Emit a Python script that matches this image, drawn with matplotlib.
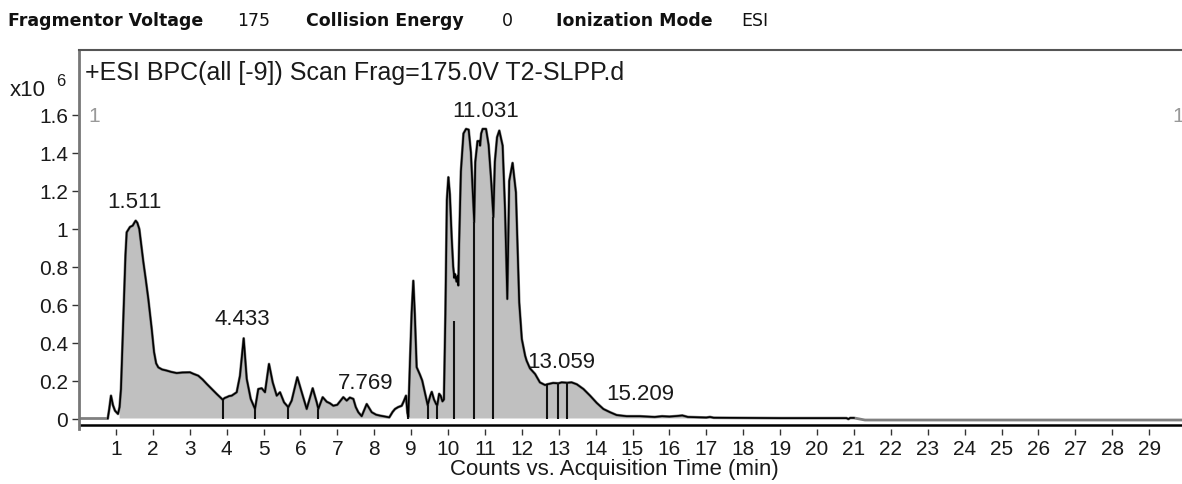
import matplotlib
matplotlib.use("Agg")
import matplotlib.pyplot as plt
import numpy as np

plt.rcParams['font.family'] = ['Liberation Sans', 'DejaVu Sans']

# BPC trace (minutes, counts x10^6)
tempo = [0.0, 0.78, 0.82, 0.867, 0.92, 0.976, 1.057, 1.10, 1.138, 1.18, 1.22, 1.26, 1.293,
         1.382, 1.455, 1.50, 1.537, 1.58, 1.634, 1.69, 1.743, 1.81, 1.878, 1.97, 2.033, 2.09,
         2.149, 2.25, 2.377, 2.50, 2.648, 2.80, 3.008, 3.10, 3.233, 3.35, 3.461, 3.60, 3.732,
         3.894, 3.95, 4.003, 4.07, 4.138, 4.20, 4.274, 4.363, 4.463, 4.545, 4.653, 4.770,
         4.82, 4.859, 4.951, 5.041, 5.149, 5.249, 5.358, 5.447, 5.556, 5.672, 5.764, 5.916,
         6.035, 6.171, 6.333, 6.442, 6.485, 6.604, 6.713, 6.80, 6.892, 7.00, 7.163, 7.255,
         7.34, 7.434, 7.50, 7.569, 7.661, 7.797, 7.932, 8.05, 8.157, 8.30, 8.409, 8.50,
         8.564, 8.65, 8.745, 8.80, 8.862, 8.90, 8.924, 8.97, 9.016, 9.06, 9.10, 9.15, 9.24,
         9.30, 9.38, 9.45, 9.52, 9.56, 9.62, 9.68, 9.71, 9.76, 9.80, 9.85, 9.89, 9.93, 9.97,
         10.01, 10.05, 10.10, 10.14, 10.17, 10.19, 10.23, 10.26, 10.28, 10.30, 10.35, 10.42,
         10.49, 10.56, 10.62, 10.67, 10.71, 10.74, 10.80, 10.85, 10.87, 10.90, 10.94, 11.03,
         11.10, 11.17, 11.23, 11.27, 11.33, 11.39, 11.48, 11.545, 11.607, 11.66, 11.75, 11.84,
         11.88, 11.93, 12.00, 12.09, 12.13, 12.22, 12.36, 12.49, 12.63, 12.69, 12.85, 12.99,
         13.08, 13.23, 13.35, 13.49, 13.67, 13.85, 14.03, 14.21, 14.39, 14.57, 14.84, 15.2,
         15.6, 15.8, 16.0, 16.2, 16.35, 16.5, 17.0, 17.1, 17.2, 18.0, 19.0, 20.0, 20.8, 20.85,
         20.9, 21.0, 21.3, 29.9]
contagem = [0.0, 0.0, 0.05, 0.12, 0.07, 0.041, 0.024, 0.06, 0.155, 0.40, 0.63, 0.86, 0.98,
            1.008, 1.015, 1.03, 1.041, 1.03, 0.997, 0.91, 0.824, 0.73, 0.629, 0.471, 0.35, 0.29,
            0.269, 0.258, 0.252, 0.245, 0.239, 0.242, 0.243, 0.235, 0.225, 0.205, 0.182, 0.155,
            0.129, 0.099, 0.108, 0.112, 0.118, 0.12, 0.128, 0.138, 0.225, 0.422, 0.208, 0.103,
            0.05, 0.11, 0.155, 0.159, 0.138, 0.287, 0.19, 0.12, 0.138, 0.085, 0.059, 0.094,
            0.217, 0.138, 0.05, 0.159, 0.085, 0.05, 0.112, 0.088, 0.08, 0.067, 0.072, 0.112,
            0.094, 0.11, 0.103, 0.06, 0.033, 0.012, 0.076, 0.033, 0.02, 0.015, 0.01, 0.006,
            0.035, 0.05, 0.06, 0.067, 0.09, 0.12, 0.03, 0.008, 0.30, 0.56, 0.725, 0.55, 0.27,
            0.23, 0.20, 0.13, 0.07, 0.12, 0.14, 0.10, 0.075, 0.07, 0.13, 0.12, 0.09, 0.10, 0.55,
            1.15, 1.27, 1.18, 0.95, 0.80, 0.74, 0.76, 0.72, 0.75, 0.70, 0.90, 1.30, 1.50, 1.524,
            1.52, 1.40, 1.20, 1.033, 1.35, 1.46, 1.46, 1.436, 1.50, 1.524, 1.524, 1.44, 1.25,
            1.059, 1.35, 1.48, 1.515, 1.436, 1.10, 0.629, 1.25, 1.345, 1.19, 0.927, 0.61, 0.418,
            0.33, 0.304, 0.264, 0.234, 0.19, 0.176, 0.18, 0.187, 0.185, 0.19, 0.188, 0.19, 0.18,
            0.155, 0.12, 0.082, 0.05, 0.033, 0.018, 0.012, 0.012, 0.008, 0.012, 0.01, 0.013,
            0.016, 0.008, 0.005, 0.008, 0.004, 0.003, 0.002, 0.002, 0.002, -0.003, 0.003, 0.003,
            -0.008, -0.008]

# limites de integracao (min) e altura das linhas
limites = [3.894, 4.770, 5.672, 6.485, 8.924, 9.45, 9.71, 10.17, 10.71, 11.23, 12.69, 12.99, 13.23]
limites_y = [0.099, 0.05, 0.059, 0.05, 0.008, 0.07, 0.07, 0.515, 1.033, 1.059, 0.178, 0.185, 0.19]

# rotulos dos picos
picos_rt = [1.511, 4.433, 7.769, 11.031, 13.059, 15.209]
picos_y = [1.087, 0.471, 0.134, 1.566, 0.245, 0.076]

y_ticks = [0, 0.2, 0.4, 0.6, 0.8, 1.0, 1.2, 1.4, 1.6]
y_labels = ["0", "0.2", "0.4", "0.6", "0.8", "1", "1.2", "1.4", "1.6"]
x_ticks = list(range(1, 30))

t = np.array(tempo)
c = np.array(contagem)

W, H = 1182, 485
fig = plt.figure(figsize=(W / 100, H / 100), dpi=100)
ax = fig.add_axes([79 / W, 1 - 429.5 / H, (W - 79) / W, (429.5 - 51) / H])

# area integrada
mask = ((t >= 1.06) & (t <= 8.41)) | ((t >= 8.924) & (t <= 20.85))
ax.fill_between(t, c, 0, where=mask, color="#c0c0c0", linewidth=0)

ax.plot(t, c, color="#808080", lw=2.0)
m = (t >= 0.78) & (t <= 21.0)
ax.plot(t[m], c[m], color="black", lw=1.2)
ax.vlines(limites, 0, limites_y, color="#111111", lw=1.5)

ax.axhline(-0.034, color="black", lw=1.8)

for rt, yy in zip(picos_rt, picos_y):
    ax.text(rt, yy, "{:.3f}".format(rt), ha="center", va="bottom", fontsize=16, color="#1a1a1a")

ax.set_xlim(0, (W - 79) / 36.9)
ax.set_ylim(-(429.5 - 419.5) / 190, (419.5 - 51) / 190)

ax.set_yticks(y_ticks)
ax.set_yticklabels(y_labels)
ax.set_xticks(x_ticks)
ax.tick_params(axis="y", direction="out", length=5, width=1, color="#333333",
               labelsize=15, pad=3, labelcolor="#1a1a1a")
ax.tick_params(axis="x", direction="out", length=4.5, width=1, color="#333333",
               labelsize=15, pad=3, labelcolor="#1a1a1a")

ax.spines["right"].set_visible(False)
ax.spines["bottom"].set_visible(False)
ax.spines["left"].set_color("#777777")
ax.spines["left"].set_linewidth(2)
ax.spines["top"].set_color("#555555")
ax.spines["top"].set_linewidth(1.5)

fig.text(614 / W, 1 - 470 / H, "Counts vs. Acquisition Time (min)", fontsize=16,
         color="#1a1a1a", ha="center", va="center")

# titulo e marcadores
fig.text(85 / W, 1 - 73 / H, "+ESI BPC(all [-9]) Scan Frag=175.0V T2-SLPP.d", fontsize=18,
         va="center", ha="left", color="#1a1a1a")
fig.text(88 / W, 1 - 116 / H, "1", fontsize=15, color="#999999", va="center", ha="left")
fig.text(1172 / W, 1 - 116 / H, "1", fontsize=15, color="#999999", va="center", ha="left")
fig.text(10 / W, 1 - 90 / H, "x10", fontsize=16, va="center", ha="left", color="#1a1a1a")
fig.text(56 / W, 1 - 81 / H, "6", fontsize=12, va="center", ha="left", color="#1a1a1a")

# cabecalho
cab = [(8, "Fragmentor Voltage", "bold"), (237, "175", "normal"), (306, "Collision Energy", "bold"),
       (502, "0", "normal"), (556, "Ionization Mode", "bold"), (741, "ESI", "normal")]
for x, s, w in cab:
    fig.text(x / W, 1 - 21 / H, s, fontsize=12.5, fontweight=w, family="DejaVu Sans",
             va="center", ha="left", color="#111111")

fig.savefig("out.png", dpi=100)
